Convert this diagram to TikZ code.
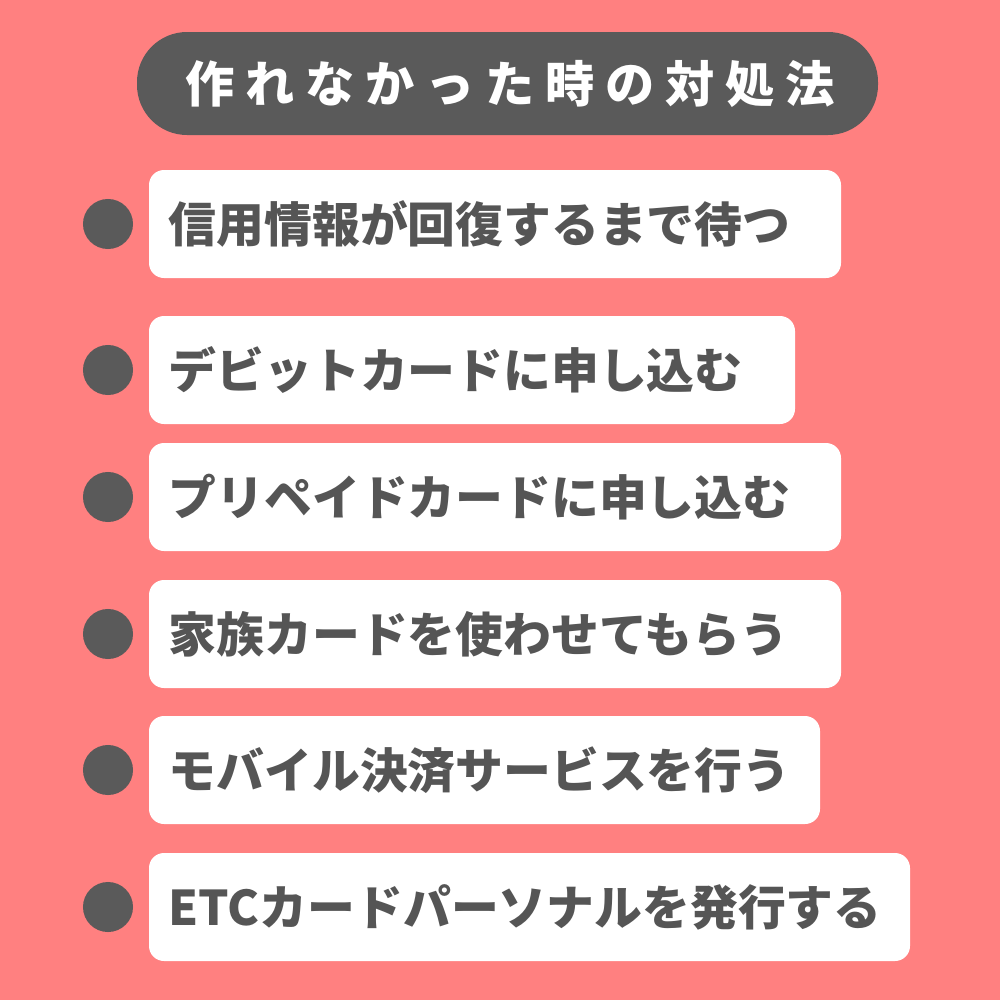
\documentclass[tikz,border=0pt]{standalone}
\usepackage{fontspec}
\newfontfamily\jp{Noto Sans CJK JP}
\newfontfamily\jpt{Noto Sans CJK JP}[LetterSpace=22]
\definecolor{bg}{HTML}{FF8080}
\definecolor{dk}{HTML}{5A5A5A}
\definecolor{tx}{HTML}{555555}
\begin{document}
\begin{tikzpicture}[x=0.01cm,y=-0.01cm,
  item/.style={fill=white,rounded corners=0.15cm},
  dot/.style={circle,fill=dk,minimum size=0.5cm,inner sep=0},
  lab/.style={anchor=west,text=tx,font=\jp\bfseries\fontsize{13.6}{16}\selectfont,inner sep=0}]
\fill[bg] (0,0) rectangle (1000,1000);
\useasboundingbox (0,0) rectangle (1000,1000);
\fill[dk,rounded corners=0.5cm] (137,32) rectangle (878,135);
\node[text=white,font=\jpt\bfseries\fontsize{14}{16}\selectfont] (title) at (510,84) {作れなかった時の対処法};
\foreach \i/\t/\b/\r/\s in {1/170/278/841/信用情報が回復するまで待つ,
  2/316/424/795/デビットカードに申し込む,
  3/443/551/841/プリペイドカードに申し込む,
  4/580/688/841/家族カードを使わせてもらう,
  5/716/824/820/モバイル決済サービスを行う,
  6/853/961/910/ETCカードパーソナルを発行する}{
  \fill[item] (149,\t) rectangle (\r,\b);
  \node[dot] (d\i) at (108,{(\t+\b)/2}) {};
  \node[lab] (l\i) at (168,{(\t+\b)/2}) {\s};
}
\end{tikzpicture}
\end{document}
